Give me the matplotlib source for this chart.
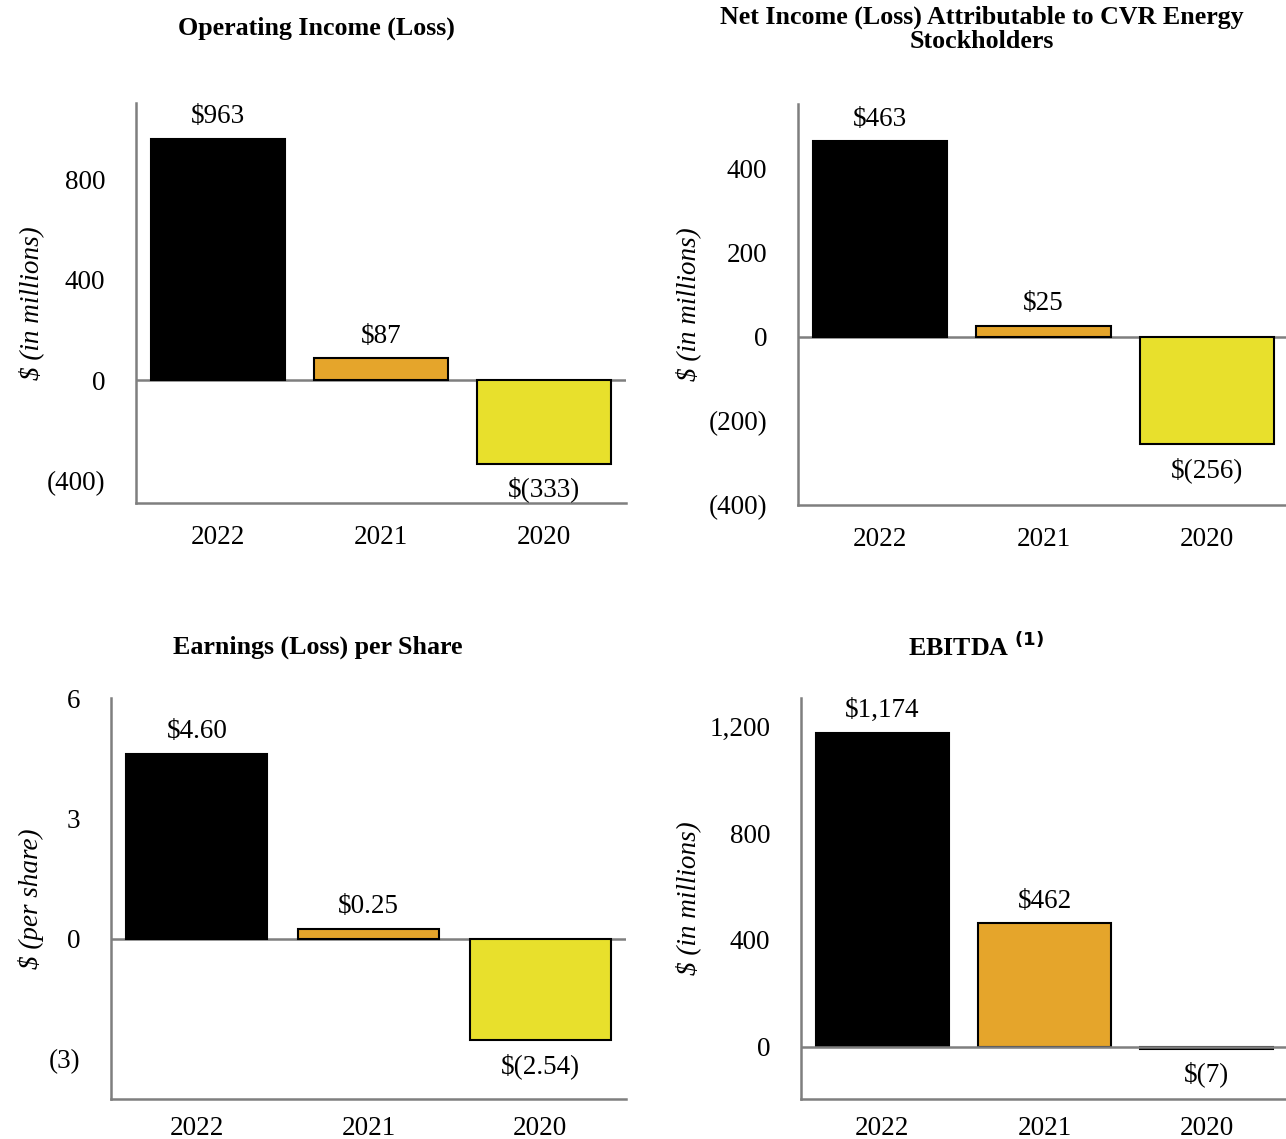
import matplotlib
matplotlib.use("Agg")
import matplotlib.pyplot as plt
from matplotlib.ticker import FuncFormatter

plt.rcParams['font.family'] = ['Liberation Serif', 'DejaVu Serif']

years = ["2022", "2021", "2020"]
bar_colors = ["#000000", "#E5A52B", "#E8E02C"]

op_income = [963, 87, -333]
net_income = [463, 25, -256]
eps = [4.60, 0.25, -2.54]
ebitda = [1174, 462, -7]

op_labels = ["$963", "$87", "$(333)"]
net_labels = ["$463", "$25", "$(256)"]
eps_labels = ["$4.60", "$0.25", "$(2.54)"]
ebitda_labels = ["$1,174", "$462", "$(7)"]

op_ticks = [-400, 0, 400, 800]
net_ticks = [-400, -200, 0, 200, 400]
eps_ticks = [-3, 0, 3, 6]
ebitda_ticks = [0, 400, 800, 1200]

W, H = 1286, 1139
fig = plt.figure(figsize=(W / 100, H / 100), dpi=100)

def fmt(v, pos=None):
    if v < 0:
        return "({:,.0f})".format(-v)
    return "{:,.0f}".format(v)

GRAY = "#7f7f7f"
FS = 19.5

def panel(px, ylim, vals, labels, ticks, ylabel, ylabel_x, bar_z=3, xpad=16):
    l, r, t, b = px
    ax = fig.add_axes([l / W, 1 - b / H, (r - l) / W, (b - t) / H])
    x = list(range(len(years)))
    ax.bar(x, vals, width=0.82, color=bar_colors, edgecolor="black", linewidth=1.5, zorder=bar_z)
    ax.axhline(0, color=GRAY, lw=1.8, zorder=2)
    ax.set_xlim(-0.5, 2.5)
    ax.set_ylim(*ylim)
    ax.set_xticks(x)
    ax.set_xticklabels(years)
    ax.set_yticks(ticks)
    ax.yaxis.set_major_formatter(FuncFormatter(fmt))
    ax.tick_params(axis="both", length=0, labelsize=FS)
    ax.tick_params(axis="y", pad=22)
    ax.tick_params(axis="x", pad=xpad)
    for s in ["top", "right"]:
        ax.spines[s].set_visible(False)
    for s in ["left", "bottom"]:
        ax.spines[s].set_color(GRAY)
        ax.spines[s].set_linewidth(1.8)
    for xi, v, lab in zip(x, vals, labels):
        if v >= 0:
            ax.annotate(lab, (xi, v), xytext=(0, 7), textcoords="offset points",
                        ha="center", va="bottom", fontsize=FS)
        else:
            ax.annotate(lab, (xi, v), xytext=(0, -9), textcoords="offset points",
                        ha="center", va="top", fontsize=FS)
    ax.set_ylabel(ylabel, fontsize=FS, style="italic")
    ax.yaxis.set_label_coords(ylabel_x / W, 1 - ((t + b) / 2) / H, transform=fig.transFigure)
    ax.patch.set_alpha(0)
    return ax

panel((136, 626, 103, 503), (-490, 1105), op_income, op_labels, op_ticks, "$ (in millions)", 44)
panel((798, 1289, 104, 505), (-400, 552), net_income, net_labels, net_ticks, "$ (in millions)", 701)
panel((111, 626, 698, 1099), (-4, 6), eps, eps_labels, eps_ticks, "$ (per share)", 44, xpad=12)
panel((801, 1288, 698, 1099), (-195, 1305), ebitda, ebitda_labels, ebitda_ticks, "$ (in millions)", 701,
      bar_z=1, xpad=12)

TFS = 18.7
fig.text(316 / W, 1 - 28 / H, "Operating Income (Loss)", ha="center", va="center",
         fontsize=TFS, fontweight="bold")
fig.text(982 / W, 1 - 29 / H, "Net Income (Loss) Attributable to CVR Energy\nStockholders",
         ha="center", va="center", fontsize=TFS, fontweight="bold", linespacing=1.05)
fig.text(318 / W, 1 - 647 / H, "Earnings (Loss) per Share", ha="center", va="center",
         fontsize=TFS, fontweight="bold")
fig.text(976 / W, 1 - 647 / H, r"EBITDA $^{\mathbf{(1)}}$", ha="center", va="center",
         fontsize=TFS, fontweight="bold")

fig.savefig("out.png", dpi=100)
